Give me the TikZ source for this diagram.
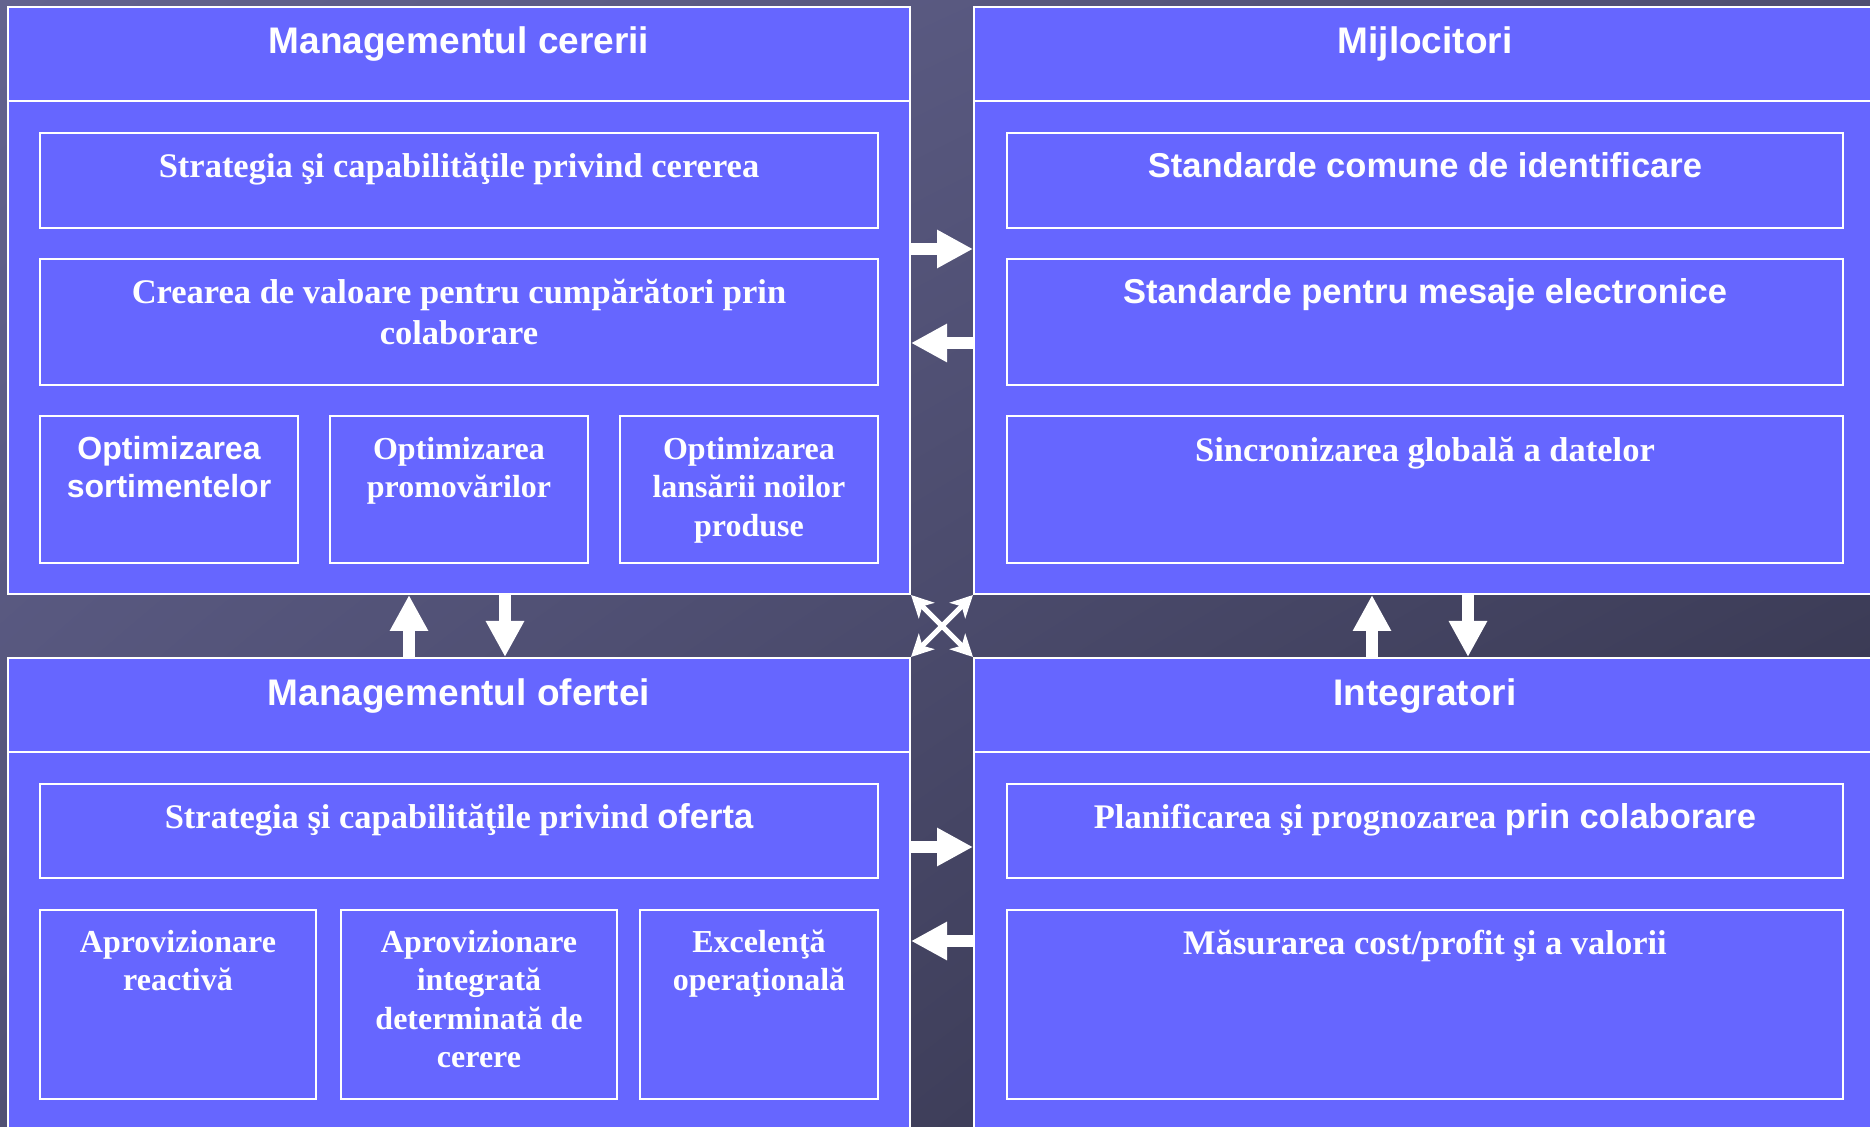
\documentclass[tikz,border=0pt]{standalone}
\usepackage{fontspec}
\usepackage{graphicx}
\setmainfont{Liberation Serif}
\setsansfont{Liberation Sans}
\usetikzlibrary{arrows.meta,fit,shadings}
\definecolor{boxblue}{HTML}{6666FF}
\definecolor{bgUL}{RGB}{99,99,143}
\definecolor{bgUR}{RGB}{79,79,114}
\definecolor{bgLL}{RGB}{80,80,116}
\definecolor{bgLR}{RGB}{45,45,65}
\newcommand\bxt[2]{\parbox[t]{#1}{\centering #2}}
\tikzset{
  outer/.style={draw=white, line width=1pt, fill=boxblue, inner sep=0pt},
  inner/.style={draw=white, line width=1pt, inner sep=0pt},
  txt/.style={text=white, inner sep=0pt, anchor=base},
  titlef/.style={font=\sffamily\bfseries\fontsize{18.5}{22}\selectfont},
  bigser/.style={font=\bfseries\fontsize{17.25}{20.25}\selectfont},
  bigsans/.style={font=\sffamily\bfseries\fontsize{17.25}{20.25}\selectfont},
  smallser/.style={font=\bfseries\fontsize{16}{19.25}\selectfont},
  smallsans/.style={font=\sffamily\bfseries\fontsize{16}{19.25}\selectfont},
  blockarrow/.style={draw=white, line width=6pt, -{Triangle[length=18pt,width=18pt]}},
  crossarrow/.style={draw=white, line width=2.5pt, {Stealth[length=11pt,width=11pt,inset=3pt]}-{Stealth[length=11pt,width=11pt,inset=3pt]}}
}
\begin{document}
\begin{tikzpicture}[x=0.5pt,y=-0.5pt]
\useasboundingbox (0,0) rectangle (1870,1127);
\clip (0,0) rectangle (1870,1127);
\shade[upper left=bgUL, upper right=bgUR, lower left=bgLL, lower right=bgLR] (0,0) rectangle (1870,1127);

% outer quadrants
\node[outer, fit={(8,7)(910,101)}] (TLh) {};
\node[outer, fit={(8,101)(910,594)}] (TLb) {};
\node[outer, fit={(974,7)(1880,101)}] (TRh) {};
\node[outer, fit={(974,101)(1880,594)}] (TRb) {};
\node[outer, fit={(8,658)(910,752)}] (BLh) {};
\node[outer, fit={(8,752)(910,1140)}] (BLb) {};
\node[outer, fit={(974,658)(1880,752)}] (BRh) {};
\node[outer, fit={(974,752)(1880,1140)}] (BRb) {};

% inner boxes
\node[inner, fit={(40,133)(878,228)}] (a1) {};
\node[inner, fit={(40,259)(878,385)}] (a2) {};
\node[inner, fit={(40,416)(298,563)}] (a3) {};
\node[inner, fit={(330,416)(588,563)}] (a4) {};
\node[inner, fit={(620,416)(878,563)}] (a5) {};
\node[inner, fit={(1007,133)(1843,228)}] (b1) {};
\node[inner, fit={(1007,259)(1843,385)}] (b2) {};
\node[inner, fit={(1007,416)(1843,563)}] (b3) {};
\node[inner, fit={(40,784)(878,878)}] (c1) {};
\node[inner, fit={(40,910)(316,1099)}] (c2) {};
\node[inner, fit={(341,910)(617,1099)}] (c3) {};
\node[inner, fit={(640,910)(878,1099)}] (c4) {};
\node[inner, fit={(1007,784)(1843,878)}] (d1) {};
\node[inner, fit={(1007,910)(1843,1099)}] (d2) {};

% arrows
\coordinate (ya) at (0,249);
\coordinate (yb) at (0,343);
\coordinate (yc) at (0,847);
\coordinate (yd) at (0,941);
\coordinate (xa) at (409,0);
\coordinate (xb) at (505,0);
\coordinate (xc) at (1372,0);
\coordinate (xd) at (1468,0);
\draw[blockarrow] (TLb.east |- ya) -- (TRb.west |- ya);
\draw[blockarrow] (TRb.west |- yb) -- (TLb.east |- yb);
\draw[blockarrow] (BLb.east |- yc) -- (BRb.west |- yc);
\draw[blockarrow] (BRb.west |- yd) -- (BLb.east |- yd);
\draw[blockarrow] (xa |- BLh.north) -- (xa |- TLb.south);
\draw[blockarrow] (xb |- TLb.south) -- (xb |- BLh.north);
\draw[blockarrow] (xc |- BRh.north) -- (xc |- TRb.south);
\draw[blockarrow] (xd |- TRb.south) -- (xd |- BRh.north);
\draw[crossarrow] (TLb.south east) -- (BRh.north west);
\draw[crossarrow] (TRb.south west) -- (BLh.north east);

% titles
\node[txt, titlef] (t1) at (459,54) {Managementul cererii};
\node[txt, titlef] (t2) at (1425,54) {Mijlocitori};
\node[txt, titlef] (t3) at (459,705.5) {Managementul ofertei};
\node[txt, titlef] (t4) at (1425,705.5) {Integratori};

% texts top-left
\node[txt, bigser] (ta1) at (459,178) {\bxt{420pt}{Strategia şi capabilităţile privind cererea}};
\node[txt, bigser] (ta2) at (459,304) {\bxt{420pt}{Crearea de valoare pentru cumpărători prin\\colaborare}};
\node[txt, smallsans] (ta3) at (169,459.5) {\bxt{128pt}{Optimizarea\\sortimentelor}};
\node[txt, smallser] (ta4) at (459,459.5) {\bxt{128pt}{Optimizarea\\promovărilor}};
\node[txt, smallser] (ta5) at (749,459.5) {\bxt{128pt}{Optimizarea\\lansării noilor\\produse}};

% texts top-right
\node[txt, bigsans] (tb1) at (1425,178) {\bxt{420pt}{Standarde comune de identificare}};
\node[txt, bigsans] (tb2) at (1425,304) {\bxt{420pt}{Standarde pentru mesaje electronice}};
\node[txt, bigser] (tb3) at (1425,461.5) {\bxt{420pt}{Sincronizarea globală a datelor}};

% texts bottom-left
\node[txt, bigser] (tc1) at (459,829) {\bxt{420pt}{Strategia şi capabilităţile privind {\sffamily oferta}}};
\node[txt, smallser] (tc2) at (178,952.5) {\bxt{137pt}{Aprovizionare\\reactivă}};
\node[txt, smallser] (tc3) at (479,952.5) {\bxt{137pt}{Aprovizionare\\integrată\\determinată de\\cerere}};
\node[txt, smallser] (tc4) at (759,952.5) {\bxt{118pt}{Excelenţă\\operaţională}};

% texts bottom-right
\node[txt, bigser] (td1) at (1425,829) {\bxt{420pt}{Planificarea şi prognozarea {\sffamily prin colaborare}}};
\node[txt, bigser] (td2) at (1425,954.5) {\bxt{420pt}{Măsurarea cost/profit şi a valorii}};
\end{tikzpicture}
\end{document}
